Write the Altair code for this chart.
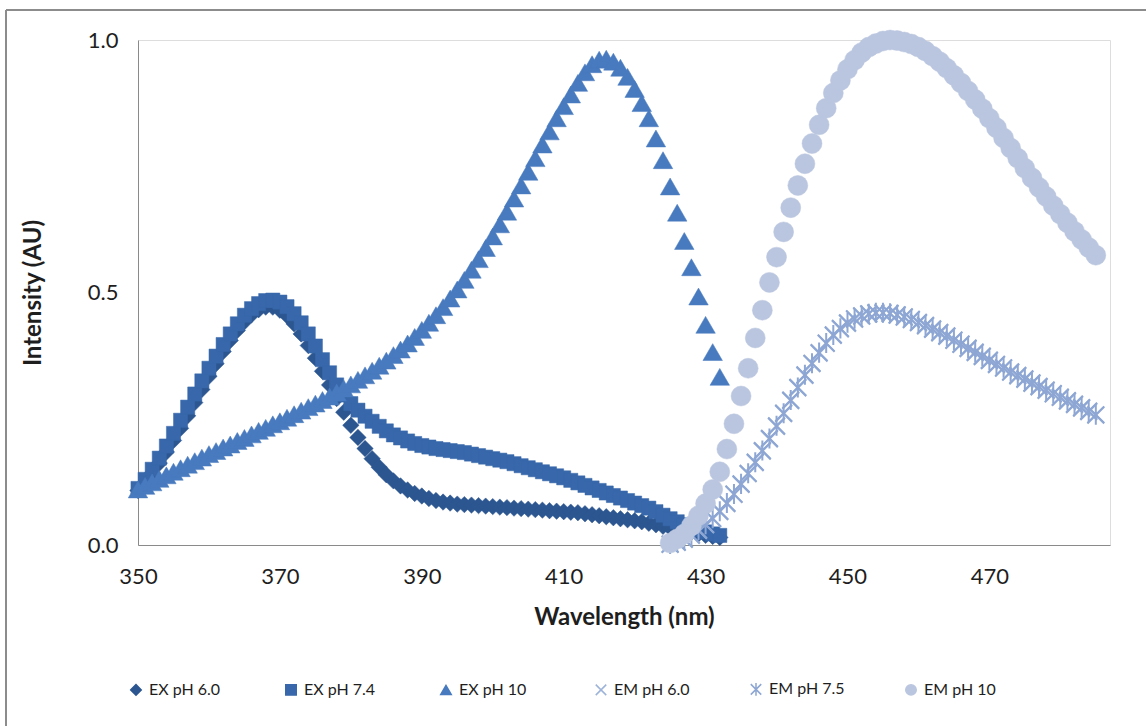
import altair as alt
import pandas as pd

# Series names, in drawing order
SERIES = ["EX pH 6.0", "EX pH 7.4", "EX pH 10", "EM pH 6.0", "EM pH 7.5", "EM pH 10"]

# Excitation scans: 350-432 nm, 1 nm steps
EX_WL = list(range(350, 433))
EX_PH60 = [
    0.108, 0.124, 0.142, 0.162, 0.184, 0.207, 0.231, 0.256, 0.282, 0.308,
    0.334, 0.359, 0.383, 0.405, 0.425, 0.442, 0.456, 0.466, 0.471, 0.471,
    0.465, 0.454, 0.438, 0.418, 0.395, 0.370, 0.344, 0.317, 0.290, 0.263,
    0.237, 0.213, 0.191, 0.171, 0.154, 0.139, 0.127, 0.117, 0.109, 0.102,
    0.097, 0.092, 0.088, 0.085, 0.083, 0.081, 0.080, 0.079, 0.078, 0.077,
    0.076, 0.075, 0.074, 0.073, 0.072, 0.071, 0.070, 0.069, 0.068, 0.067,
    0.066, 0.065, 0.064, 0.062, 0.060, 0.058, 0.056, 0.054, 0.052, 0.050,
    0.048, 0.046, 0.043, 0.040, 0.037, 0.034, 0.031, 0.028, 0.025, 0.022,
    0.019, 0.017, 0.015,
]
EX_PH74 = [
    0.112, 0.130, 0.150, 0.172, 0.196, 0.221, 0.247, 0.273, 0.299, 0.325,
    0.350, 0.374, 0.397, 0.418, 0.438, 0.455, 0.468, 0.478, 0.484, 0.485,
    0.481, 0.472, 0.458, 0.440, 0.418, 0.394, 0.367, 0.341, 0.317, 0.297,
    0.280, 0.267, 0.255, 0.245, 0.235, 0.226, 0.218, 0.212, 0.206, 0.201,
    0.197, 0.194, 0.191, 0.189, 0.187, 0.185, 0.183, 0.180, 0.177, 0.174,
    0.171, 0.168, 0.165, 0.161, 0.157, 0.153, 0.149, 0.145, 0.141, 0.137,
    0.133, 0.128, 0.123, 0.118, 0.113, 0.108, 0.103, 0.098, 0.093, 0.088,
    0.083, 0.078, 0.073, 0.066, 0.059, 0.052, 0.046, 0.040, 0.035, 0.030,
    0.026, 0.022, 0.019,
]
EX_PH10 = [
    0.110, 0.117, 0.124, 0.131, 0.138, 0.145, 0.152, 0.159, 0.166, 0.173,
    0.180, 0.186, 0.193, 0.199, 0.206, 0.212, 0.219, 0.226, 0.232, 0.239,
    0.245, 0.252, 0.259, 0.266, 0.273, 0.280, 0.287, 0.294, 0.302, 0.310,
    0.318, 0.327, 0.336, 0.345, 0.355, 0.365, 0.376, 0.387, 0.399, 0.412,
    0.426, 0.440, 0.455, 0.471, 0.488, 0.506, 0.525, 0.545, 0.566, 0.588,
    0.611, 0.635, 0.660, 0.686, 0.712, 0.739, 0.766, 0.793, 0.819, 0.845,
    0.869, 0.892, 0.915, 0.936, 0.952, 0.961, 0.963, 0.957, 0.945, 0.927,
    0.903, 0.875, 0.845, 0.805, 0.762, 0.710, 0.658, 0.602, 0.550, 0.492,
    0.436, 0.382, 0.333,
]

# Emission scans: 425-485 nm, 1 nm steps
EM_WL = list(range(425, 486))
EM_PH60 = [
    0.001, 0.005, 0.011, 0.019, 0.029, 0.040, 0.052, 0.066, 0.082, 0.100,
    0.120, 0.141, 0.163, 0.186, 0.210, 0.235, 0.260, 0.286, 0.311, 0.336,
    0.359, 0.380, 0.399, 0.415, 0.428, 0.439, 0.447, 0.453, 0.457, 0.459,
    0.459, 0.458, 0.455, 0.451, 0.446, 0.440, 0.434, 0.427, 0.420, 0.413,
    0.405, 0.397, 0.389, 0.381, 0.373, 0.365, 0.357, 0.350, 0.342, 0.335,
    0.328, 0.320, 0.313, 0.306, 0.299, 0.292, 0.285, 0.278, 0.271, 0.264,
    0.257,
]
EM_PH75 = [
    0.002, 0.006, 0.012, 0.020, 0.030, 0.041, 0.053, 0.067, 0.083, 0.101,
    0.121, 0.142, 0.164, 0.187, 0.211, 0.236, 0.261, 0.287, 0.312, 0.337,
    0.360, 0.381, 0.400, 0.416, 0.429, 0.440, 0.448, 0.454, 0.458, 0.460,
    0.460, 0.459, 0.456, 0.452, 0.447, 0.441, 0.435, 0.428, 0.421, 0.414,
    0.406, 0.398, 0.390, 0.382, 0.374, 0.366, 0.358, 0.351, 0.343, 0.336,
    0.329, 0.321, 0.314, 0.307, 0.300, 0.293, 0.286, 0.279, 0.272, 0.265,
    0.258,
]
EM_PH10 = [
    0.004, 0.012, 0.022, 0.038, 0.058, 0.082, 0.110, 0.145, 0.190, 0.240,
    0.295, 0.350, 0.410, 0.465, 0.520, 0.570, 0.620, 0.668, 0.712, 0.755,
    0.795, 0.832, 0.865, 0.895, 0.920, 0.942, 0.960, 0.975, 0.986, 0.993,
    0.998, 1.000, 0.999, 0.996, 0.992, 0.986, 0.978, 0.968, 0.957, 0.944,
    0.930, 0.915, 0.899, 0.882, 0.864, 0.845, 0.826, 0.806, 0.786, 0.766,
    0.746, 0.727, 0.708, 0.690, 0.672, 0.655, 0.638, 0.621, 0.605, 0.589,
    0.574,
]

X_TICKS = [350, 370, 390, 410, 430, 450, 470]
Y_TICKS = [0.0, 0.5, 1.0]

COLORS = ["#2C5690", "#3868AB", "#487ABF", "#9DB3D9", "#8DA6D3", "#BAC6DF"]
SHAPES = [
    "diamond",
    "square",
    "triangle-up",
    "M-1,-1L1,1M-1,1L1,-1",
    "M-1,-1L1,1M-1,1L1,-1M0,-1.2L0,1.2",
    "circle",
]
SIZES = [270, 200, 380, 280, 280, 400]
STROKES = [0.5, 0.5, 0.5, 2.0, 2.0, 0.5]

FONT = "Lato"
TEXT = "#1E1E1E"

columns = [
    (EX_WL, EX_PH60), (EX_WL, EX_PH74), (EX_WL, EX_PH10),
    (EM_WL, EM_PH60), (EM_WL, EM_PH75), (EM_WL, EM_PH10),
]
frames = [
    pd.DataFrame({"wl": wl, "v": vals, "series": name})
    for name, (wl, vals) in zip(SERIES, columns)
]

x_enc = alt.X(
    "wl:Q",
    scale=alt.Scale(domain=[350, 487], nice=False, zero=False),
    axis=alt.Axis(
        values=X_TICKS, title="Wavelength (nm)", ticks=False, grid=False,
        domainColor="#8A8A8A", labelFontSize=22, labelFont=FONT, labelColor=TEXT,
        labelPadding=21, labelFlush=False,
        titleFont=FONT, titleFontSize=24, titleFontWeight="bold", titleColor=TEXT,
        titlePadding=18,
    ),
)
y_enc = alt.Y(
    "v:Q",
    scale=alt.Scale(domain=[0, 1], nice=False),
    axis=alt.Axis(
        values=Y_TICKS, format=".1f", title="Intensity (AU)", ticks=False, grid=False,
        domainColor="#8A8A8A", labelFontSize=22, labelFont=FONT, labelColor=TEXT,
        labelPadding=20,
        titleFont=FONT, titleFontSize=24, titleFontWeight="bold", titleColor=TEXT,
        titlePadding=42,
    ),
)

legend = alt.Legend(
    title=None, orient="none", legendX=-10, legendY=641, direction="horizontal",
    columns=6, gridAlign="all", columnPadding=57, labelFont=FONT, labelFontSize=16,
    labelColor=TEXT, symbolSize=110, labelOffset=5,
)
fill_enc = alt.Fill("series:N", scale=alt.Scale(domain=SERIES, range=COLORS), legend=legend)
stroke_enc = alt.Stroke("series:N", scale=alt.Scale(domain=SERIES, range=COLORS), legend=legend)
shape_enc = alt.Shape("series:N", scale=alt.Scale(domain=SERIES, range=SHAPES), legend=legend)

layers = []
for i, frame in enumerate(frames):
    layers.append(
        alt.Chart(frame)
        .mark_point(filled=True, opacity=1, size=SIZES[i], strokeWidth=STROKES[i])
        .encode(x=x_enc, y=y_enc, fill=fill_enc, stroke=stroke_enc, shape=shape_enc)
    )

# Outer chart-area border (top and left edges)
border_src = pd.DataFrame({"k": [0]})
border_top = alt.Chart(border_src).mark_rule(color="#8C8C8C", strokeWidth=2).encode(
    x=alt.value(-132), x2=alt.value(1008), y=alt.value(-30)
)
border_left = alt.Chart(border_src).mark_rule(color="#8C8C8C", strokeWidth=2).encode(
    x=alt.value(-132), y=alt.value(-30), y2=alt.value(686)
)

chart = (
    alt.layer(border_top, border_left, *layers)
    .properties(width=972, height=505, padding={"left": 5, "top": 9, "right": 0, "bottom": 0})
    .configure_view(strokeWidth=0)
    .configure(background="white")
)

chart.save("out.html", embed_options={"renderer": "svg", "actions": False})
